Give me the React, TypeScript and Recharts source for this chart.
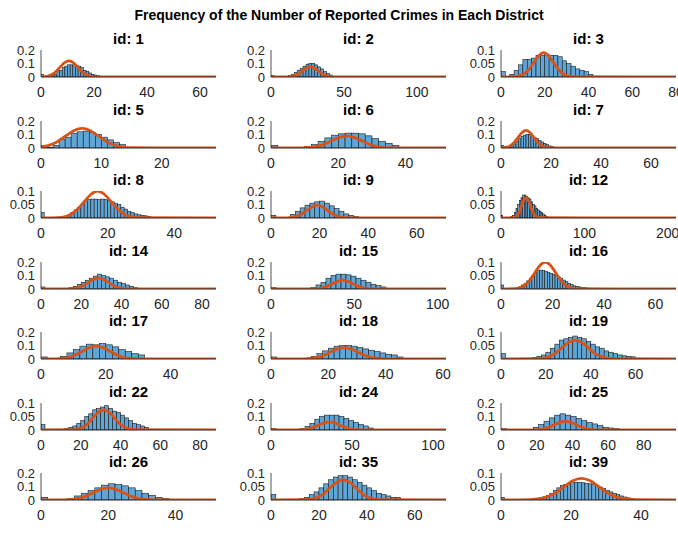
import { ComposedChart, Bar, Line, XAxis, YAxis } from 'recharts';

const TITLE = 'Frequency of the Number of Reported Crimes in Each District';

const districtIds = [1, 2, 3, 5, 6, 7, 8, 9, 12, 14, 15, 16, 17, 18, 19, 22, 24, 25, 26, 35, 39];
const xMaxes = [66, 120, 80, 29, 52, 70, 52.5, 72, 210, 87, 105, 68, 54, 61, 78, 88, 108, 98, 52, 73, 50];
const yMaxes = [0.2, 0.2, 0.1, 0.2, 0.2, 0.2, 0.1, 0.2, 0.1, 0.2, 0.2, 0.1, 0.2, 0.2, 0.1, 0.1, 0.2, 0.2, 0.2, 0.1, 0.1];
const yTicksWide = [0, 0.1, 0.2];
const yTicksNarrow = [0, 0.05, 0.1];
const xTickLists = [
    [0, 20, 40, 60], [0, 50, 100], [0, 20, 40, 60, 80],
    [0, 10, 20], [0, 20, 40], [0, 20, 40, 60],
    [0, 20, 40], [0, 20, 40, 60], [0, 100, 200],
    [0, 20, 40, 60, 80], [0, 50, 100], [0, 20, 40, 60],
    [0, 20, 40], [0, 20, 40, 60], [0, 20, 40, 60],
    [0, 20, 40, 60, 80], [0, 50, 100], [0, 20, 40, 60, 80],
    [0, 20, 40], [0, 20, 40, 60], [0, 20, 40],
];

// histogram bins start at 0, one height per bin (probability)
const binWidths = [1, 2, 2, 1, 2, 1, 1, 2, 2, 2, 3, 1, 2, 2, 2, 2, 3, 3, 2, 2, 1];
const binHeights = [
    [0.02, 0, 0, 0, 0.01, 0.02, 0.04, 0.05, 0.07, 0.08, 0.09, 0.09, 0.09, 0.085, 0.08, 0.07, 0.05, 0.04, 0.03, 0.02, 0.015, 0.01, 0.005],
    [0.01, 0, 0, 0, 0, 0.005, 0.01, 0.02, 0.035, 0.05, 0.065, 0.08, 0.095, 0.1, 0.1, 0.09, 0.075, 0.06, 0.04, 0.025, 0.015, 0.005],
    [0.02, 0, 0.01, 0.025, 0.045, 0.065, 0.065, 0.07, 0.08, 0.08, 0.085, 0.08, 0.08, 0.075, 0.06, 0.05, 0.04, 0.03, 0.025, 0.02, 0.01],
    [0.02, 0.005, 0.02, 0.065, 0.08, 0.11, 0.12, 0.125, 0.115, 0.1, 0.08, 0.06, 0.04, 0.025, 0.005],
    [0.02, 0, 0, 0, 0, 0.01, 0.025, 0.05, 0.075, 0.095, 0.105, 0.11, 0.11, 0.105, 0.09, 0.07, 0.05, 0.035, 0.02],
    [0.02, 0, 0, 0.005, 0.015, 0.03, 0.05, 0.07, 0.085, 0.095, 0.1, 0.1, 0.09, 0.08, 0.07, 0.055, 0.045, 0.035, 0.025, 0.015, 0.01, 0.005],
    [0.02, 0, 0, 0, 0, 0, 0, 0.005, 0.01, 0.02, 0.03, 0.04, 0.05, 0.06, 0.068, 0.07, 0.07, 0.068, 0.07, 0.068, 0.065, 0.06, 0.055, 0.05, 0.04, 0.033, 0.025, 0.02, 0.015, 0.012, 0.01, 0.008, 0.005],
    [0.02, 0, 0, 0.005, 0.025, 0.05, 0.075, 0.095, 0.11, 0.12, 0.125, 0.11, 0.09, 0.07, 0.05, 0.03, 0.02, 0.01],
    [0.01, 0, 0, 0, 0, 0, 0.005, 0.01, 0.02, 0.035, 0.05, 0.065, 0.075, 0.085, 0.085, 0.08, 0.075, 0.07, 0.06, 0.05, 0.045, 0.035, 0.03, 0.025, 0.02, 0.015, 0.01, 0.005],
    [0.015, 0, 0, 0, 0, 0, 0, 0.01, 0.02, 0.035, 0.05, 0.065, 0.08, 0.095, 0.11, 0.1, 0.09, 0.08, 0.065, 0.05, 0.04, 0.03, 0.02, 0.01],
    [0.01, 0, 0, 0, 0, 0, 0, 0, 0.01, 0.03, 0.05, 0.08, 0.1, 0.11, 0.11, 0.105, 0.095, 0.08, 0.065, 0.05, 0.035, 0.025, 0.015, 0.005],
    [0.015, 0, 0, 0, 0, 0, 0.005, 0.01, 0.015, 0.02, 0.03, 0.04, 0.05, 0.06, 0.068, 0.07, 0.068, 0.066, 0.062, 0.058, 0.055, 0.05, 0.045, 0.04, 0.033, 0.027, 0.02, 0.016, 0.012, 0.01, 0.008, 0.006, 0.005, 0.003],
    [0.015, 0, 0.005, 0.02, 0.045, 0.07, 0.095, 0.11, 0.105, 0.115, 0.105, 0.09, 0.07, 0.055, 0.04, 0.03],
    [0.015, 0, 0, 0, 0, 0, 0.005, 0.02, 0.04, 0.06, 0.08, 0.095, 0.1, 0.1, 0.095, 0.085, 0.075, 0.065, 0.055, 0.045, 0.035, 0.03, 0.015],
    [0.02, 0, 0, 0, 0, 0, 0, 0.005, 0.01, 0.015, 0.025, 0.04, 0.055, 0.07, 0.075, 0.08, 0.085, 0.08, 0.075, 0.065, 0.055, 0.045, 0.04, 0.03, 0.025, 0.02, 0.015, 0.012, 0.01, 0.008],
    [0.02, 0, 0, 0, 0, 0, 0.005, 0.01, 0.015, 0.025, 0.035, 0.05, 0.06, 0.075, 0.08, 0.085, 0.09, 0.08, 0.07, 0.065, 0.055, 0.045, 0.035, 0.025, 0.02, 0.015, 0.01],
    [0.01, 0, 0, 0, 0, 0, 0.01, 0.025, 0.05, 0.08, 0.1, 0.11, 0.11, 0.11, 0.1, 0.085, 0.07, 0.055, 0.04, 0.03, 0.015],
    [0.01, 0, 0, 0, 0, 0.005, 0.02, 0.04, 0.065, 0.09, 0.11, 0.12, 0.11, 0.1, 0.085, 0.07, 0.055, 0.045, 0.035, 0.02, 0.015, 0.01],
    [0.02, 0, 0, 0, 0.01, 0.03, 0.05, 0.07, 0.09, 0.11, 0.12, 0.115, 0.105, 0.09, 0.07, 0.05, 0.035, 0.02, 0.01],
    [0.02, 0, 0, 0, 0, 0, 0.005, 0.01, 0.02, 0.03, 0.045, 0.06, 0.075, 0.085, 0.09, 0.09, 0.085, 0.075, 0.065, 0.055, 0.045, 0.035, 0.025, 0.02, 0.015, 0.01, 0.01],
    [0.01, 0, 0, 0, 0, 0, 0, 0, 0, 0.003, 0.005, 0.008, 0.012, 0.017, 0.025, 0.035, 0.045, 0.053, 0.058, 0.062, 0.064, 0.065, 0.065, 0.064, 0.062, 0.06, 0.057, 0.053, 0.048, 0.042, 0.036, 0.03, 0.025, 0.02, 0.015, 0.011, 0.008, 0.005, 0.003],
];

// fitted curve, read point by point
const curveXs = [
    [0, 2.3, 3.9, 5.6, 7.2, 8.9, 10.5, 12.2, 13.8, 15.5, 17.1, 18.8, 20.4, 66],
    [0, 11.1, 13.8, 16.4, 19.1, 21.7, 24.4, 27, 29.7, 32.3, 35, 37.6, 40.3, 42.9, 120],
    [0, 6.3, 8.5, 10.7, 12.9, 15.1, 17.3, 19.5, 21.7, 23.9, 26.1, 28.3, 30.5, 32.7, 80],
    [0, 1.3, 2.7, 4.05, 5.4, 6.8, 8.2, 9.55, 10.9, 12.3, 13.7, 15.05, 29],
    [0, 9.3, 11.5, 13.7, 15.9, 18.1, 20.3, 22.5, 24.7, 26.9, 29.1, 31.3, 33.5, 35.7, 52],
    [0, 2.3, 3.8, 5.35, 6.9, 8.45, 10, 11.55, 13.1, 14.65, 16.2, 17.75, 19.3, 70],
    [0, 5, 7, 9, 11, 13, 15, 17, 19, 21, 23, 25, 27, 29, 52.5],
    [0, 6.4, 8.5, 10.6, 12.7, 14.8, 16.9, 19, 21.1, 23.2, 25.3, 27.4, 29.5, 31.6, 72],
    [0, 14.1, 16.8, 19.4, 22.1, 24.7, 27.4, 30, 32.7, 35.3, 38, 40.6, 43.3, 45.9, 210],
    [0, 13.5, 16, 18.5, 21, 23.5, 26, 28.5, 31, 33.5, 36, 38.5, 41, 43.5, 87],
    [0, 24.7, 27.8, 30.8, 33.9, 36.9, 40, 43, 46.1, 49.1, 52.2, 55.2, 58.3, 61.3, 105],
    [0, 5.2, 7.2, 9.2, 11.2, 13.2, 15.2, 17.2, 19.2, 21.2, 23.2, 25.2, 27.2, 29.2, 68],
    [0, 4.4, 6.5, 8.6, 10.7, 12.8, 14.9, 17, 19.1, 21.2, 23.3, 25.4, 27.5, 29.6, 54],
    [0, 11.4, 13.8, 16.1, 18.5, 20.8, 23.2, 25.5, 27.9, 30.2, 32.6, 34.9, 37.3, 39.6, 61],
    [0, 15.9, 18.8, 21.6, 24.5, 27.3, 30.2, 33, 35.9, 38.7, 41.6, 44.4, 47.3, 50.1, 78],
    [0, 15.6, 18.3, 20.9, 23.6, 26.2, 28.9, 31.5, 34.2, 36.8, 39.5, 42.1, 44.8, 47.4, 88],
    [0, 16.2, 19.5, 22.8, 26.1, 29.4, 32.7, 36, 39.3, 42.6, 45.9, 49.2, 52.5, 55.8, 108],
    [0, 17.7, 20.8, 23.8, 26.9, 29.9, 33, 36, 39.1, 42.1, 45.2, 48.2, 51.3, 54.3, 98],
    [0, 6.8, 9, 11.2, 13.4, 15.6, 17.8, 20, 22.2, 24.4, 26.6, 28.8, 31, 33.2, 52],
    [0, 14.1, 16.8, 19.4, 22.1, 24.7, 27.4, 30, 32.7, 35.3, 38, 40.6, 43.3, 45.9, 73],
    [0, 8, 10.5, 13, 15.5, 18, 20.5, 23, 25.5, 28, 30.5, 33, 35.5, 38, 50],
];
const curveYs = [
    [0.001, 0.005, 0.016, 0.039, 0.073, 0.106, 0.12, 0.106, 0.073, 0.039, 0.016, 0.005, 0.001, 0],
    [0, 0.001, 0.003, 0.01, 0.024, 0.046, 0.066, 0.075, 0.066, 0.046, 0.024, 0.01, 0.003, 0.001, 0],
    [0, 0.001, 0.004, 0.012, 0.029, 0.055, 0.079, 0.09, 0.079, 0.055, 0.029, 0.012, 0.004, 0.001, 0],
    [0.007, 0.02, 0.047, 0.088, 0.128, 0.145, 0.128, 0.088, 0.047, 0.02, 0.006, 0.002, 0],
    [0, 0.001, 0.004, 0.012, 0.029, 0.055, 0.079, 0.09, 0.079, 0.055, 0.029, 0.012, 0.004, 0.001, 0],
    [0.001, 0.006, 0.018, 0.042, 0.079, 0.115, 0.13, 0.115, 0.079, 0.042, 0.018, 0.006, 0.001, 0],
    [0, 0.001, 0.004, 0.014, 0.033, 0.061, 0.088, 0.1, 0.088, 0.061, 0.033, 0.014, 0.004, 0.001, 0],
    [0, 0.001, 0.004, 0.013, 0.031, 0.058, 0.084, 0.095, 0.084, 0.058, 0.031, 0.013, 0.004, 0.001, 0],
    [0, 0.001, 0.003, 0.01, 0.024, 0.046, 0.066, 0.075, 0.066, 0.046, 0.024, 0.01, 0.003, 0.001, 0],
    [0, 0.001, 0.004, 0.011, 0.026, 0.049, 0.071, 0.08, 0.071, 0.049, 0.026, 0.011, 0.004, 0.001, 0],
    [0, 0.001, 0.003, 0.009, 0.021, 0.04, 0.057, 0.065, 0.057, 0.04, 0.021, 0.009, 0.003, 0.001, 0],
    [0, 0.001, 0.004, 0.014, 0.033, 0.061, 0.088, 0.1, 0.088, 0.061, 0.033, 0.014, 0.004, 0.001, 0],
    [0, 0.001, 0.004, 0.013, 0.031, 0.058, 0.084, 0.095, 0.084, 0.058, 0.031, 0.013, 0.004, 0.001, 0],
    [0, 0.001, 0.004, 0.012, 0.028, 0.052, 0.075, 0.085, 0.075, 0.052, 0.028, 0.012, 0.004, 0.001, 0],
    [0, 0.001, 0.003, 0.01, 0.023, 0.043, 0.062, 0.07, 0.062, 0.043, 0.023, 0.01, 0.003, 0.001, 0],
    [0, 0.001, 0.003, 0.01, 0.024, 0.046, 0.066, 0.075, 0.066, 0.046, 0.024, 0.01, 0.003, 0.001, 0],
    [0, 0.001, 0.003, 0.008, 0.02, 0.036, 0.053, 0.06, 0.053, 0.036, 0.02, 0.008, 0.003, 0.001, 0],
    [0, 0.001, 0.003, 0.009, 0.021, 0.04, 0.057, 0.065, 0.057, 0.04, 0.021, 0.009, 0.003, 0.001, 0],
    [0, 0.001, 0.004, 0.012, 0.029, 0.055, 0.079, 0.09, 0.079, 0.055, 0.029, 0.012, 0.004, 0.001, 0],
    [0, 0.001, 0.003, 0.01, 0.024, 0.046, 0.066, 0.075, 0.066, 0.046, 0.024, 0.01, 0.003, 0.001, 0],
    [0, 0.001, 0.004, 0.011, 0.026, 0.049, 0.071, 0.08, 0.071, 0.049, 0.026, 0.011, 0.004, 0.001, 0],
];

const FONT = '"Liberation Sans", Arial, Helvetica, sans-serif';
const AXIS_COLOR = '#262626';
const BAR_FILL = '#5fa6d7';
const CURVE_COLOR = '#d95319';

const COL_LEFT = [41, 271, 501];
const PLOT_W = 175;
const PLOT_H = 27;
const ROW_TOP = 50;
const ROW_STEP = 70.5;
const Y_AXIS_W = 41;
const MARGIN_TOP = 8;
const X_AXIS_H = 28;

function Panel({ i }: { i: number }) {
    const col = i % 3;
    const row = Math.floor(i / 3);
    const plotLeft = COL_LEFT[col];
    const plotTop = Math.round(ROW_TOP + ROW_STEP * row);
    const w = binWidths[i];
    const bars = binHeights[i]
        .map((h, k) => ({ x: k * w + w / 2, h }))
        .filter((d) => d.h > 0);
    const curve = curveXs[i].map((x, k) => ({ x, y: curveYs[i][k] }));
    const barPx = (w / xMaxes[i]) * PLOT_W;

    return (
        <>
            <div
                style={{
                    position: 'absolute',
                    left: plotLeft,
                    width: PLOT_W,
                    top: plotTop - 20,
                    lineHeight: '18px',
                    textAlign: 'center',
                    fontWeight: 'bold',
                    fontSize: 15,
                    color: '#000',
                }}
            >
                id: {districtIds[i]}
            </div>
            <div style={{ position: 'absolute', left: plotLeft - Y_AXIS_W, top: plotTop - MARGIN_TOP }}>
                <ComposedChart
                    width={Y_AXIS_W + PLOT_W + 6}
                    height={MARGIN_TOP + PLOT_H + X_AXIS_H}
                    data={bars}
                    margin={{ top: MARGIN_TOP, right: 6, left: 0, bottom: 0 }}
                >
                    <XAxis
                        dataKey="x"
                        type="number"
                        domain={[0, xMaxes[i]]}
                        allowDataOverflow
                        ticks={xTickLists[i]}
                        interval={0}
                        height={X_AXIS_H}
                        tickLine={false}
                        tickSize={6}
                        tickMargin={4}
                        axisLine={{ stroke: AXIS_COLOR }}
                        tick={{ fill: AXIS_COLOR, fontSize: 14 }}
                    />
                    <YAxis
                        type="number"
                        domain={[0, yMaxes[i]]}
                        allowDataOverflow
                        ticks={yMaxes[i] > 0.15 ? yTicksWide : yTicksNarrow}
                        interval={0}
                        width={Y_AXIS_W}
                        tickLine={false}
                        tickSize={4}
                        tickMargin={2}
                        axisLine={{ stroke: AXIS_COLOR, strokeWidth: 0.8 }}
                        tick={{ fill: AXIS_COLOR, fontSize: 13 }}
                        tickFormatter={(v: number) => String(v)}
                    />
                    <Bar
                        dataKey="h"
                        isAnimationActive={false}
                        shape={(p: any) => (
                            <rect
                                x={p.x + p.width / 2 - barPx / 2}
                                y={p.y}
                                width={barPx}
                                height={p.height}
                                fill={BAR_FILL}
                                stroke="#1a1a1a"
                                strokeWidth={0.6}
                            />
                        )}
                    />
                    <Line
                        data={curve}
                        dataKey="y"
                        type="monotone"
                        stroke={CURVE_COLOR}
                        strokeWidth={2.8}
                        dot={false}
                        isAnimationActive={false}
                    />
                </ComposedChart>
            </div>
        </>
    );
}

export default function App() {
    return (
        <div
            style={{
                position: 'absolute',
                left: 0,
                top: 0,
                width: 678,
                height: 546,
                overflow: 'hidden',
                background: '#fff',
                fontFamily: FONT,
            }}
        >
            <div
                style={{
                    position: 'absolute',
                    left: 0,
                    width: 678,
                    top: 6,
                    lineHeight: '18px',
                    textAlign: 'center',
                    fontWeight: 'bold',
                    fontSize: 14,
                    color: '#000',
                }}
            >
                {TITLE}
            </div>
            {districtIds.map((_, i) => (
                <Panel key={i} i={i} />
            ))}
        </div>
    );
}
